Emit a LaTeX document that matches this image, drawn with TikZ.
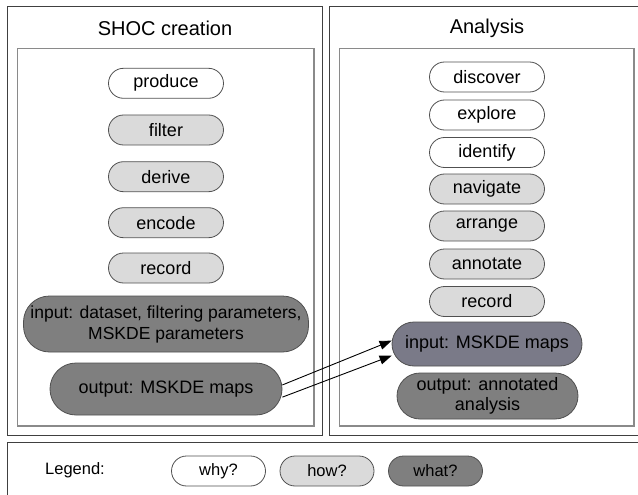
\documentclass[tikz,border=0pt]{standalone}
\usepackage{fontspec}
\setmainfont{Liberation Sans}
\usetikzlibrary{arrows.meta}

\definecolor{frameouter}{HTML}{404040}
\definecolor{frameinner}{HTML}{8A8A8A}
\definecolor{whyfill}{HTML}{FFFFFF}
\definecolor{howfill}{HTML}{DADADA}
\definecolor{whatfill}{HTML}{7F7F7F}
\definecolor{linkfill}{HTML}{7A7A88}
\definecolor{pillline}{HTML}{505050}

\tikzset{
  outerframe/.style={draw=frameouter, line width=1pt},
  innerframe/.style={draw=frameinner, line width=1.3pt},
  heading/.style={font=\fontsize{20}{22}\selectfont, inner sep=0pt},
  pill/.style={draw=pillline, line width=0.8pt, rounded corners=#1,
    inner sep=0pt, align=center,
    font=\fontsize{18}{20}\selectfont},
  pill/.default=15pt,
  why/.style={pill, fill=whyfill, minimum height=30pt},
  how/.style={pill, fill=howfill, minimum height=30pt},
  what/.style={pill=26pt, fill=whatfill},
  keypill/.style={pill, font=\fontsize{16.5}{18}\selectfont, minimum height=30pt, minimum width=94pt},
  flow/.style={draw=black, line width=0.9pt, -{Triangle[length=12pt,width=9pt]}},
}

\begin{document}
\begin{tikzpicture}[x=1pt, y=-1pt]
  \useasboundingbox (0,0) rectangle (638,495);

  % frames of the two stages and the legend strip
  \draw[outerframe] (7,7) rectangle (322.5,435.5);
  \draw[innerframe] (17.5,48.5) rectangle (314,426);
  \draw[outerframe] (645,7) -- (329.5,7) -- (329.5,435.5) -- (645,435.5);
  \draw[innerframe] (339.5,48.5) rectangle (634,426);
  \draw[outerframe] (645,442) -- (7,442) -- (7,500);

  % stage titles
  \node[heading] (tcreate) at (165,28) {SHOC creation};
  \node[heading] (tanalysis) at (487,28) {Analysis};

  % SHOC creation stage
  \node[why, minimum width=115pt] (produce) at (166,83.3) {produce};
  \node[how, minimum width=115pt] (filter) at (166,130) {filter};
  \node[how, minimum width=115pt] (derive) at (166,176.7) {derive};
  \node[how, minimum width=115pt] (encode) at (166,222.7) {encode};
  \node[how, minimum width=115pt] (recordA) at (166,268) {record};
  \node[what, font=\fontsize{17.5}{21}\selectfont, minimum width=285pt, minimum height=56pt] (inA) at (166,324)
    {input: dataset, filtering parameters,\\MSKDE parameters};
  \node[what, minimum width=232pt, minimum height=52pt] (outA) at (166,389)
    {output: MSKDE maps};

  % Analysis stage
  \node[why, minimum width=115pt] (discover) at (487,77) {discover};
  \node[why, minimum width=115pt] (explore) at (487,115) {explore};
  \node[why, minimum width=115pt] (identify) at (487,152.5) {identify};
  \node[how, minimum width=115pt] (navigate) at (487,189) {navigate};
  \node[how, minimum width=115pt] (arrange) at (487,226) {arrange};
  \node[how, minimum width=115pt] (annotate) at (487,264) {annotate};
  \node[how, minimum width=115pt] (recordB) at (487,301.5) {record};
  \node[what, pill=22pt, fill=linkfill, minimum width=190pt, minimum height=44pt] (inB) at (487,344)
    {input: MSKDE maps};
  \node[what, pill=23pt, minimum width=181pt, minimum height=46pt] (outB) at (487.5,396)
    {output: annotated\\analysis};

  % maps handed from creation to analysis
  \draw[flow] (outA.2) -- (inB.178.8);
  \draw[flow] (outA.-4.4) -- (inB.187.8);

  % legend
  \node[font=\fontsize{16.5}{18}\selectfont, inner sep=0pt] (legend) at (75,470) {Legend:};
  \node[keypill, fill=whyfill] (kwhy) at (218.5,471) {why?};
  \node[keypill, fill=howfill] (khow) at (327,471) {how?};
  \node[keypill, fill=whatfill] (kwhat) at (435.5,471) {what?};
\end{tikzpicture}
\end{document}
